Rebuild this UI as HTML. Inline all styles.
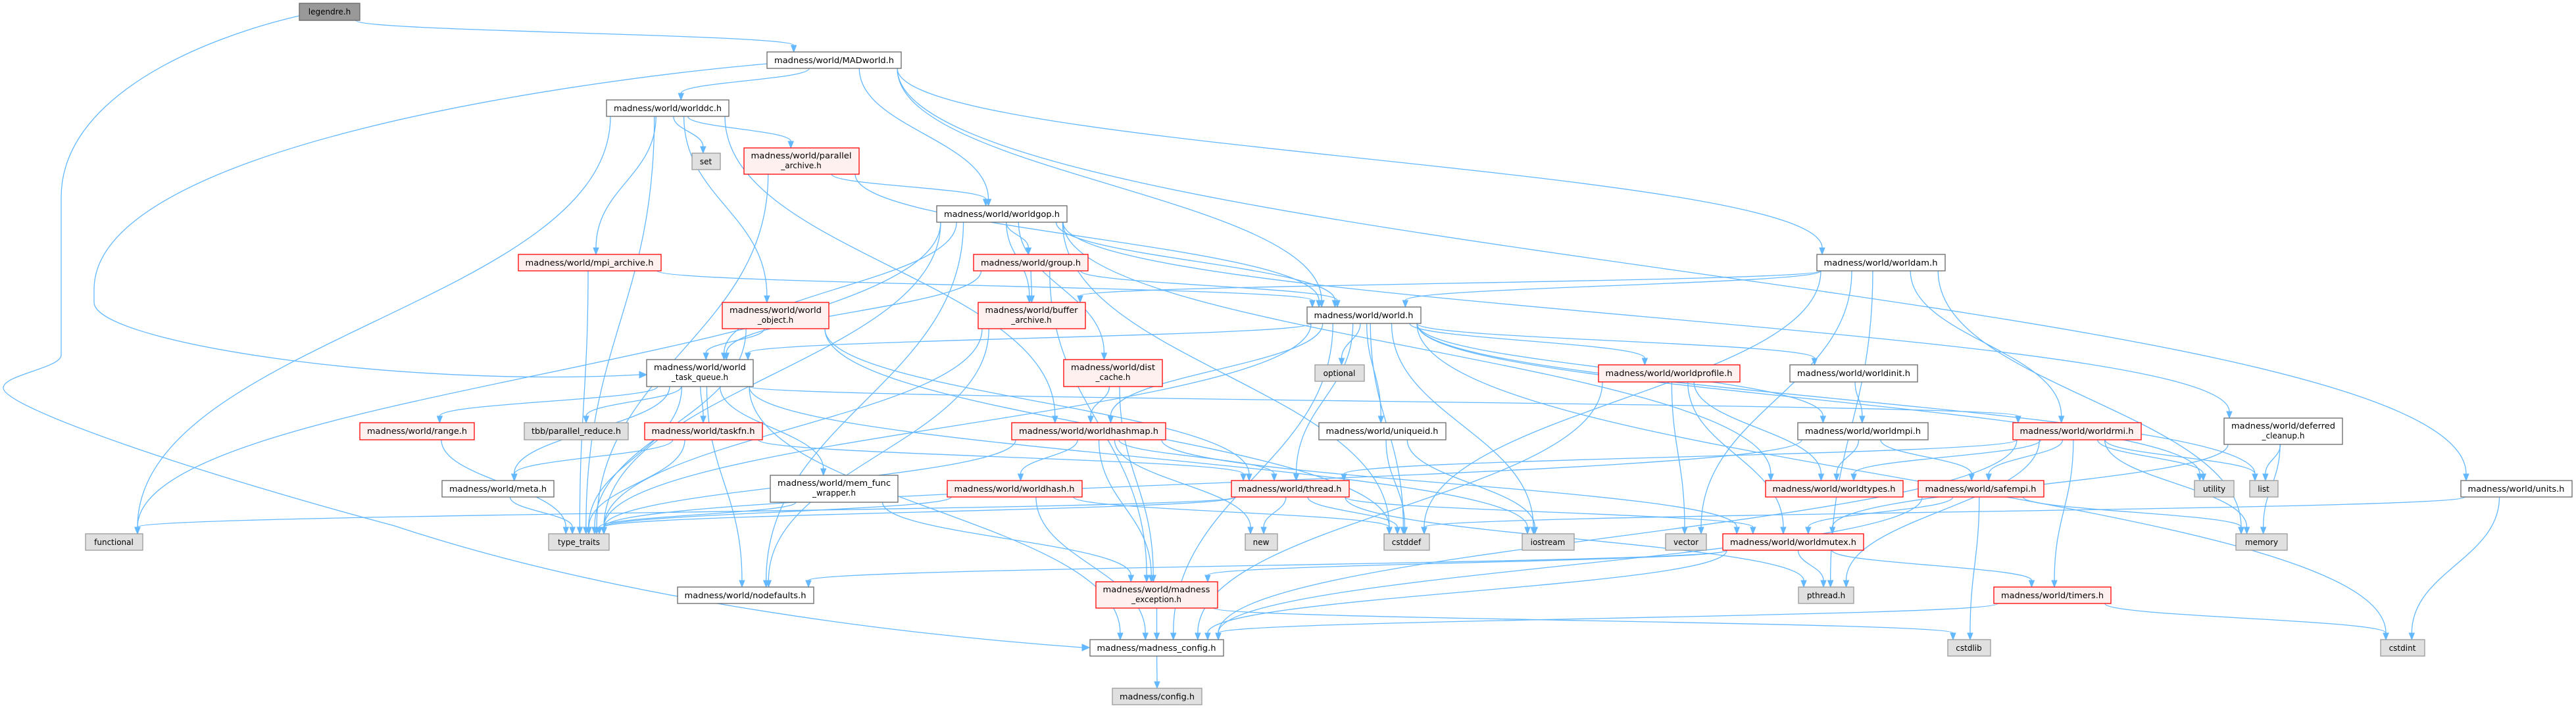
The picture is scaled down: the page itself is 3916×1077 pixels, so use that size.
<!DOCTYPE html>
<html><head><meta charset="utf-8"><style>
html,body{margin:0;padding:0;background:#fff;}
svg{display:block;}
text{font-family:"DejaVu Sans","Liberation Sans",sans-serif;font-size:12px;fill:#000;}
.W{fill:#fff;stroke:#666;stroke-width:1.3}
.R{fill:#fff0f0;stroke:#f00;stroke-width:1.3}
.G{fill:#e0e0e0;stroke:#999;stroke-width:1.3}
.L{fill:#999;stroke:#666;stroke-width:1.3}
.e{fill:none;stroke:#63b8ff;stroke-width:1.3}
.a{fill:#63b8ff;stroke:#63b8ff;stroke-width:1}
</style></head><body>
<svg id="g" width="3916" height="1077" viewBox="0 0 3916 1077" xmlns="http://www.w3.org/2000/svg">
<g id="edges">
<path class="e" d="M455,24 C300,60 93,150 93,300 L93,540 C93,560 5,570 5,590 C5,620 300,720 600,800 C900,900 1300,960 1645,985"/>
<polygon class="a" points="1645,980 1645,990 1656,985"/>
<path class="e" d="M1166,97 C900,120 143,220 143,440 L143,460 C143,520 600,590 972,570"/>
<polygon class="a" points="972,565 972,575 983,570"/>
</g>
<g id="nodes">
<g id="legendre"><rect class="L" x="455" y="5" width="92" height="26"/><text x="501" y="22" text-anchor="middle">legendre.h</text></g>
<g id="madworld"><rect class="W" x="1166" y="79" width="204" height="25"/><text x="1268" y="96" text-anchor="middle" textLength="182" lengthAdjust="spacingAndGlyphs">madness/world/MADworld.h</text></g>
<g id="worlddc"><rect class="W" x="922" y="152" width="186" height="25"/><text x="1015" y="169" text-anchor="middle" textLength="164" lengthAdjust="spacingAndGlyphs">madness/world/worlddc.h</text></g>
<g id="set"><rect class="G" x="1052" y="233" width="43" height="25"/><text x="1073" y="250" text-anchor="middle">set</text></g>
<g id="parch"><rect class="R" x="1131" y="225" width="175" height="40"/><text x="1218" y="241" text-anchor="middle" textLength="153" lengthAdjust="spacingAndGlyphs">madness/world/parallel</text><text x="1218" y="256" text-anchor="middle">_archive.h</text></g>
<g id="worldgop"><rect class="W" x="1424" y="313" width="198" height="25"/><text x="1523" y="330" text-anchor="middle" textLength="176" lengthAdjust="spacingAndGlyphs">madness/world/worldgop.h</text></g>
<g id="mpiarch"><rect class="R" x="788" y="387" width="217" height="25"/><text x="896" y="404" text-anchor="middle" textLength="195" lengthAdjust="spacingAndGlyphs">madness/world/mpi_archive.h</text></g>
<g id="group"><rect class="R" x="1480" y="387" width="174" height="25"/><text x="1567" y="404" text-anchor="middle" textLength="152" lengthAdjust="spacingAndGlyphs">madness/world/group.h</text></g>
<g id="worldam"><rect class="W" x="2762" y="387" width="195" height="25"/><text x="2859" y="404" text-anchor="middle" textLength="173" lengthAdjust="spacingAndGlyphs">madness/world/worldam.h</text></g>
<g id="wobj"><rect class="R" x="1098" y="460" width="162" height="40"/><text x="1179" y="476" text-anchor="middle" textLength="140" lengthAdjust="spacingAndGlyphs">madness/world/world</text><text x="1179" y="491" text-anchor="middle">_object.h</text></g>
<g id="buffer"><rect class="R" x="1487" y="460" width="163" height="40"/><text x="1568" y="476" text-anchor="middle" textLength="141" lengthAdjust="spacingAndGlyphs">madness/world/buffer</text><text x="1568" y="491" text-anchor="middle">_archive.h</text></g>
<g id="world"><rect class="W" x="1987" y="467" width="173" height="25"/><text x="2073" y="484" text-anchor="middle" textLength="151" lengthAdjust="spacingAndGlyphs">madness/world/world.h</text></g>
<g id="tq"><rect class="W" x="983" y="547" width="162" height="41"/><text x="1064" y="563" text-anchor="middle" textLength="140" lengthAdjust="spacingAndGlyphs">madness/world/world</text><text x="1064" y="578" text-anchor="middle">_task_queue.h</text></g>
<g id="dist"><rect class="R" x="1617" y="547" width="150" height="41"/><text x="1692" y="563" text-anchor="middle" textLength="128" lengthAdjust="spacingAndGlyphs">madness/world/dist</text><text x="1692" y="578" text-anchor="middle">_cache.h</text></g>
<g id="optional"><rect class="G" x="1999" y="555" width="75" height="25"/><text x="2036" y="572" text-anchor="middle">optional</text></g>
<g id="wprofile"><rect class="R" x="2430" y="555" width="215" height="26"/><text x="2537" y="572" text-anchor="middle" textLength="193" lengthAdjust="spacingAndGlyphs">madness/world/worldprofile.h</text></g>
<g id="winit"><rect class="W" x="2721" y="555" width="194" height="26"/><text x="2818" y="572" text-anchor="middle" textLength="172" lengthAdjust="spacingAndGlyphs">madness/world/worldinit.h</text></g>
<g id="range"><rect class="R" x="547" y="643" width="174" height="26"/><text x="634" y="660" text-anchor="middle" textLength="152" lengthAdjust="spacingAndGlyphs">madness/world/range.h</text></g>
<g id="tbb"><rect class="G" x="797" y="643" width="158" height="26"/><text x="876" y="660" text-anchor="middle" textLength="136" lengthAdjust="spacingAndGlyphs">tbb/parallel_reduce.h</text></g>
<g id="taskfn"><rect class="R" x="980" y="643" width="179" height="26"/><text x="1069" y="660" text-anchor="middle" textLength="157" lengthAdjust="spacingAndGlyphs">madness/world/taskfn.h</text></g>
<g id="hashmap"><rect class="R" x="1538" y="643" width="234" height="26"/><text x="1655" y="660" text-anchor="middle" textLength="212" lengthAdjust="spacingAndGlyphs">madness/world/worldhashmap.h</text></g>
<g id="uniqueid"><rect class="W" x="2005" y="643" width="193" height="26"/><text x="2101" y="660" text-anchor="middle" textLength="171" lengthAdjust="spacingAndGlyphs">madness/world/uniqueid.h</text></g>
<g id="wmpi"><rect class="W" x="2733" y="643" width="198" height="26"/><text x="2832" y="660" text-anchor="middle" textLength="176" lengthAdjust="spacingAndGlyphs">madness/world/worldmpi.h</text></g>
<g id="wrmi"><rect class="R" x="3060" y="643" width="195" height="26"/><text x="3157" y="660" text-anchor="middle" textLength="173" lengthAdjust="spacingAndGlyphs">madness/world/worldrmi.h</text></g>
<g id="deferred"><rect class="W" x="3381" y="636" width="180" height="40"/><text x="3471" y="652" text-anchor="middle" textLength="158" lengthAdjust="spacingAndGlyphs">madness/world/deferred</text><text x="3471" y="667" text-anchor="middle">_cleanup.h</text></g>
<g id="meta"><rect class="W" x="672" y="731" width="170" height="25"/><text x="757" y="748" text-anchor="middle" textLength="148" lengthAdjust="spacingAndGlyphs">madness/world/meta.h</text></g>
<g id="memfunc"><rect class="W" x="1171" y="723" width="194" height="41"/><text x="1268" y="739" text-anchor="middle" textLength="172" lengthAdjust="spacingAndGlyphs">madness/world/mem_func</text><text x="1268" y="754" text-anchor="middle">_wrapper.h</text></g>
<g id="whash"><rect class="R" x="1440" y="731" width="205" height="25"/><text x="1542" y="748" text-anchor="middle" textLength="183" lengthAdjust="spacingAndGlyphs">madness/world/worldhash.h</text></g>
<g id="thread"><rect class="R" x="1872" y="731" width="179" height="25"/><text x="1961" y="748" text-anchor="middle" textLength="157" lengthAdjust="spacingAndGlyphs">madness/world/thread.h</text></g>
<g id="wtypes"><rect class="R" x="2684" y="731" width="209" height="25"/><text x="2788" y="748" text-anchor="middle" textLength="187" lengthAdjust="spacingAndGlyphs">madness/world/worldtypes.h</text></g>
<g id="safempi"><rect class="R" x="2916" y="731" width="191" height="25"/><text x="3011" y="748" text-anchor="middle" textLength="169" lengthAdjust="spacingAndGlyphs">madness/world/safempi.h</text></g>
<g id="utility"><rect class="G" x="3336" y="731" width="60" height="25"/><text x="3366" y="748" text-anchor="middle">utility</text></g>
<g id="list"><rect class="G" x="3420" y="731" width="43" height="25"/><text x="3441" y="748" text-anchor="middle">list</text></g>
<g id="units"><rect class="W" x="3741" y="731" width="169" height="25"/><text x="3825" y="748" text-anchor="middle" textLength="147" lengthAdjust="spacingAndGlyphs">madness/world/units.h</text></g>
<g id="functional"><rect class="G" x="130" y="812" width="87" height="25"/><text x="173" y="829" text-anchor="middle">functional</text></g>
<g id="typetraits"><rect class="G" x="834" y="812" width="92" height="25"/><text x="880" y="829" text-anchor="middle">type_traits</text></g>
<g id="new"><rect class="G" x="1893" y="812" width="49" height="25"/><text x="1917" y="829" text-anchor="middle">new</text></g>
<g id="cstddef"><rect class="G" x="2104" y="812" width="69" height="25"/><text x="2138" y="829" text-anchor="middle">cstddef</text></g>
<g id="iostream"><rect class="G" x="2314" y="812" width="79" height="25"/><text x="2353" y="829" text-anchor="middle">iostream</text></g>
<g id="vector"><rect class="G" x="2532" y="812" width="62" height="25"/><text x="2563" y="829" text-anchor="middle">vector</text></g>
<g id="wmutex"><rect class="R" x="2619" y="812" width="214" height="25"/><text x="2726" y="829" text-anchor="middle" textLength="192" lengthAdjust="spacingAndGlyphs">madness/world/worldmutex.h</text></g>
<g id="memory"><rect class="G" x="3399" y="812" width="78" height="25"/><text x="3438" y="829" text-anchor="middle">memory</text></g>
<g id="nodefaults"><rect class="W" x="1030" y="893" width="207" height="25"/><text x="1133" y="910" text-anchor="middle" textLength="185" lengthAdjust="spacingAndGlyphs">madness/world/nodefaults.h</text></g>
<g id="mexc"><rect class="R" x="1666" y="885" width="185" height="40"/><text x="1758" y="901" text-anchor="middle" textLength="163" lengthAdjust="spacingAndGlyphs">madness/world/madness</text><text x="1758" y="916" text-anchor="middle">_exception.h</text></g>
<g id="pthread"><rect class="G" x="2734" y="893" width="84" height="25"/><text x="2776" y="910" text-anchor="middle">pthread.h</text></g>
<g id="timers"><rect class="R" x="3031" y="893" width="178" height="25"/><text x="3120" y="910" text-anchor="middle" textLength="156" lengthAdjust="spacingAndGlyphs">madness/world/timers.h</text></g>
<g id="mconfig"><rect class="W" x="1657" y="973" width="203" height="25"/><text x="1758" y="990" text-anchor="middle" textLength="181" lengthAdjust="spacingAndGlyphs">madness/madness_config.h</text></g>
<g id="cstdlib"><rect class="G" x="2961" y="973" width="65" height="25"/><text x="2993" y="990" text-anchor="middle">cstdlib</text></g>
<g id="cstdint"><rect class="G" x="3619" y="973" width="67" height="25"/><text x="3652" y="990" text-anchor="middle">cstdint</text></g>
<g id="config"><rect class="G" x="1691" y="1047" width="136" height="25"/><text x="1759" y="1064" text-anchor="middle" textLength="114" lengthAdjust="spacingAndGlyphs">madness/config.h</text></g>
</g>
</svg>
<script>
(function(){
var E="legendre>madworld;madworld>worlddc,worldgop,world,worldam,units;worlddc>functional,set,parch,mpiarch,wobj,hashmap,typetraits;parch>worldgop,world,typetraits;mpiarch>typetraits,world;worldgop>group,buffer,dist,world,tq,functional,typetraits,wtypes,deferred,cstddef,nodefaults;group>world,tq,mexc,buffer;wobj>tq,typetraits,thread,cstddef;buffer>nodefaults,typetraits;world>tq,optional,uniqueid,wprofile,winit,wmpi,hashmap,thread,cstddef,iostream,list,utility,cstdint,mconfig,typetraits;worldam>world,buffer,cstddef,wrmi,vector,memory,pthread;tq>range,tbb,taskfn,meta,memfunc,typetraits,nodefaults,mconfig,iostream,wrmi;taskfn>meta,typetraits,thread;range>typetraits;meta>typetraits;memfunc>typetraits,mexc;dist>hashmap,mexc;hashmap>whash,thread,new,wmutex,mexc,typetraits;whash>mconfig,cstddef,typetraits;thread>new,cstddef,typetraits,functional,pthread,wmutex;uniqueid>cstddef,iostream;wprofile>wtypes,vector,wmutex,mconfig;winit>wmpi;wmpi>wtypes,safempi,typetraits;safempi>wmutex,memory,cstdlib,mconfig;wrmi>safempi,wtypes,utility,list,memory,pthread,thread,timers,mconfig;wmutex>pthread,timers,mexc,nodefaults,mconfig;timers>mconfig,cstdint;mexc>mconfig,cstdlib;mconfig>config;deferred>list,memory,wmutex;units>cstddef,cstdint";
var ns="http://www.w3.org/2000/svg",G=document.getElementById("edges");
function box(id){var r=document.querySelector("#"+id+" rect");var x=+r.getAttribute("x"),y=+r.getAttribute("y"),w=+r.getAttribute("width"),h=+r.getAttribute("height");return{x1:x,y1:y,x2:x+w,y2:y+h,cx:x+w/2};}
function cl(v,a,b){return Math.max(a,Math.min(b,v));}
E.split(";").forEach(function(s){var p=s.split(">"),a=box(p[0]);p[1].split(",").forEach(function(t){var b=box(t);
var sx=cl(a.cx+(b.cx-a.cx)*0.15,a.x1+6,a.x2-6),sy=a.y2;
var ex=cl(b.cx+(a.cx-b.cx)*0.08,b.x1+8,b.x2-8),ey=b.y1-10;
var dy=ey-sy;
var path=document.createElementNS(ns,"path");
path.setAttribute("d","M"+sx+","+sy+" C"+sx+","+(sy+dy*0.45)+" "+ex+","+(ey-dy*0.45)+" "+ex+","+ey);
path.setAttribute("class","e");G.appendChild(path);
var ar=document.createElementNS(ns,"polygon");
ar.setAttribute("points",(ex-4)+","+ey+" "+(ex+4)+","+ey+" "+ex+","+(ey+10));
ar.setAttribute("class","a");G.appendChild(ar);});});
})();
</script>
</body></html>
